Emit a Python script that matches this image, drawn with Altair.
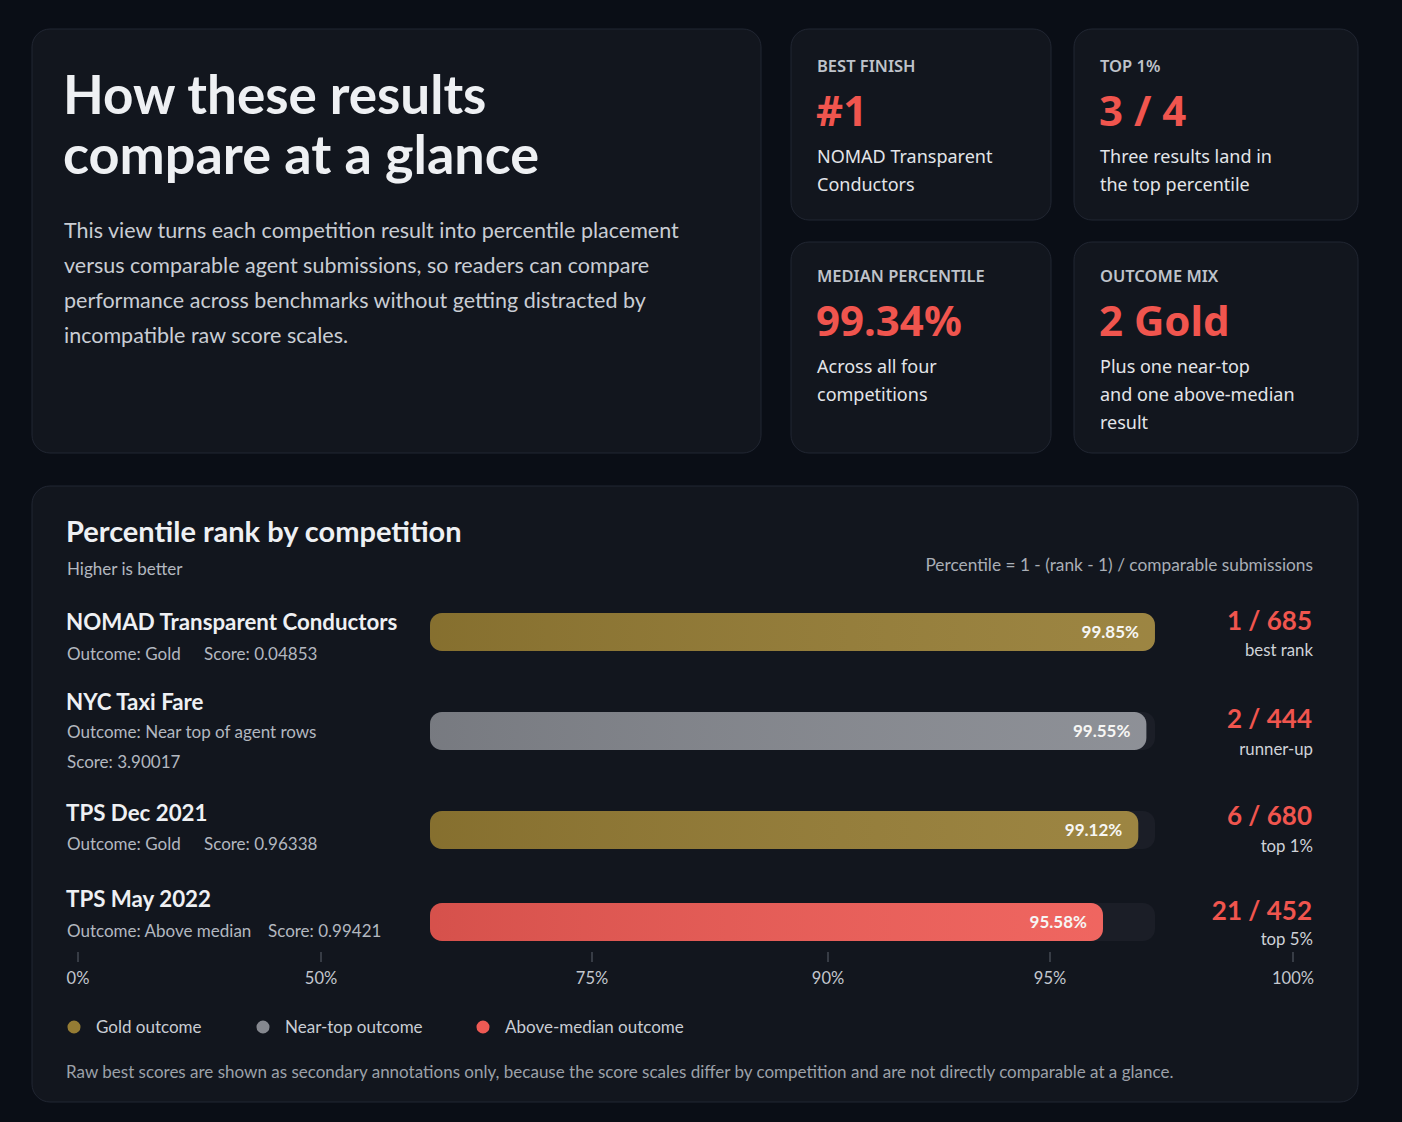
import statistics
import altair as alt
import pandas as pd

# ---------------- data ----------------
competitions = ["NOMAD Transparent Conductors", "NYC Taxi Fare", "TPS Dec 2021", "TPS May 2022"]
outcomes = ["Gold", "Near top of agent rows", "Gold", "Above median"]
outcome_class = ["Gold", "Near-top", "Gold", "Above-median"]
scores = ["0.04853", "3.90017", "0.96338", "0.99421"]
percentiles = [99.85, 99.55, 99.12, 95.58]
ranks = [1, 2, 6, 21]
submissions = [685, 444, 680, 452]
rank_notes = ["best rank", "runner-up", "top 1%", "top 5%"]
axis_ticks = [0, 50, 75, 90, 95, 100]
legend_classes = ["Gold", "Near-top", "Above-median"]
legend_labels = ["Gold outcome", "Near-top outcome", "Above-median outcome"]
class_colors = ["#957c34", "#85888f", "#ee5a54"]

df = pd.DataFrame({
    "competition": competitions, "outcome": outcomes, "cls": outcome_class,
    "score": scores, "pct": percentiles, "rank": ranks, "subs": submissions,
    "note": rank_notes,
})
ticks_df = pd.DataFrame({"tick": axis_ticks})
legend_df = pd.DataFrame({"cls": legend_classes, "label": legend_labels})

# KPI values derived from the data
best_i = ranks.index(min(ranks))
best_value = f"#{ranks[best_i]}"
top1_value = f"{sum(p >= 99 for p in percentiles)} / {len(percentiles)}"
median_value = f"{statistics.median(percentiles) + 1e-9:.2f}%"
gold_value = f"{outcome_class.count('Gold')} Gold"

# ---------------- style ----------------
BG = "#0a0e16"
CARD = "#12161e"
CARD_STROKE = "#212632"
TRACK = "#1b1e27"
RED = "#f0554e"
WHITE = "#eef0f3"
BODY = "#c9cdd4"
MUTED = "#b3b8c0"
FONT = "Lato"
CARD_FONT = "Noto Sans"

dummy = alt.Data(values=[{"a": 1}])
color_scale = alt.Scale(domain=legend_classes, range=class_colors)
bar_scale = alt.Scale(type="sqrt", domain=[0, 25], range=[1166.7, 1015.2], nice=False, zero=False)
tick_scale = alt.Scale(domain=axis_ticks, range=[78, 321, 592, 828, 1050, 1293], nice=False, zero=False)


def card(x0, y0, x1, y1, r=18):
    return alt.Chart(dummy).mark_rect(
        fill=CARD, stroke=CARD_STROKE, strokeWidth=1, cornerRadius=r
    ).encode(x=alt.value(x0), x2=alt.value(x1), y=alt.value(y0), y2=alt.value(y1))


def T(text, x, y, size, color, weight="normal", font=FONT, align="left"):
    return alt.Chart(dummy).mark_text(
        text=text, font=font, fontSize=size, fontWeight=weight, color=color,
        align=align, baseline="middle"
    ).encode(x=alt.value(x), y=alt.value(y))


layers = []

# cards
layers += [
    card(32, 29, 761, 453),
    card(791, 29, 1051, 220),
    card(1074, 29, 1358, 220),
    card(791, 242, 1051, 453),
    card(1074, 242, 1358, 453),
    card(32, 486, 1358, 1102),
]

# intro card
layers += [
    T("How these results", 63, 98, 53, WHITE, "bold"),
    T("compare at a glance", 63, 158, 54, WHITE, "bold"),
]
para = [
    "This view turns each competition result into percentile placement",
    "versus comparable agent submissions, so readers can compare",
    "performance across benchmarks without getting distracted by",
    "incompatible raw score scales.",
]
for i, line in enumerate(para):
    layers.append(T(line, 64, 232 + 35 * i, 21.5, BODY))

# KPI cards
kpis = [
    (817, 67, "BEST FINISH", best_value, ["NOMAD Transparent", "Conductors"]),
    (1100, 67, "TOP 1%", top1_value, ["Three results land in", "the top percentile"]),
    (817, 277, "MEDIAN PERCENTILE", median_value, ["Across all four", "competitions"]),
    (1100, 277, "OUTCOME MIX", gold_value, ["Plus one near-top", "and one above-median", "result"]),
]
for x, y, label, value, lines in kpis:
    layers.append(T(label, x, y, 16.5, "#bfc3ca", 600, CARD_FONT))
    layers.append(T(value, x - 1, y + 46, 42, RED, "bold", CARD_FONT))
    for j, line in enumerate(lines):
        layers.append(T(line, x, y + 91 + 28 * j, 18, "#e3e5e9", "normal", CARD_FONT))

# chart panel header
layers += [
    T("Percentile rank by competition", 66, 533, 29, WHITE, "bold"),
    T("Higher is better", 67, 570, 17, MUTED),
    T("Percentile = 1 - (rank - 1) / comparable submissions", 1313, 566, 17.3, "#a9aeb6", align="right"),
]

# rows
row_y = [632, 731, 830, 922]
title_y = [623, 703, 814, 900]
outcome_y = [655, 733, 845, 932]
score_pos = [(204, 655), (67, 763), (204, 845), (268, 932)]
rank_y = [622, 720, 817, 912]
note_y = [651, 750, 847, 940]
HALF = 19

for i, name in enumerate(competitions):
    yc = row_y[i]
    base = alt.Chart(df).transform_filter(alt.datum.competition == name).transform_calculate(
        short="100 - datum.pct",
        label="format(datum.pct, '.2f') + '%'",
        outcome_txt="'Outcome: ' + datum.outcome",
        score_txt="'Score: ' + datum.score",
        rank_txt="datum.rank + ' / ' + datum.subs",
    )
    # track
    layers.append(alt.Chart(dummy).mark_rect(fill=TRACK, cornerRadius=12).encode(
        x=alt.value(430), x2=alt.value(1155), y=alt.value(yc - HALF), y2=alt.value(yc + HALF)))
    # bar
    layers.append(base.mark_rect(cornerRadius=12).encode(
        x=alt.X("short:Q", scale=bar_scale, axis=None),
        x2=alt.value(430),
        y=alt.value(yc - HALF), y2=alt.value(yc + HALF),
        color=alt.Color("cls:N", scale=color_scale, legend=None),
    ))
    # gradient sheen on the bar
    layers.append(base.mark_rect(
        cornerRadius=12,
        fill=alt.Gradient(
            gradient="linear", x1=0, x2=1, y1=0, y2=0,
            stops=[alt.GradientStop(color="rgba(0,0,0,0.10)", offset=0),
                   alt.GradientStop(color="rgba(255,255,255,0.07)", offset=1)],
        ),
    ).encode(
        x=alt.X("short:Q", scale=bar_scale, axis=None),
        x2=alt.value(430),
        y=alt.value(yc - HALF), y2=alt.value(yc + HALF),
    ))
    # value label inside bar
    layers.append(base.mark_text(
        align="right", baseline="middle", dx=-16, font=FONT, fontSize=17,
        fontWeight="bold", color="#f6f6f4",
    ).encode(x=alt.X("short:Q", scale=bar_scale, axis=None), y=alt.value(yc + 1), text="label:N"))
    # left texts
    layers.append(base.mark_text(align="left", baseline="middle", font=FONT, fontSize=22.3,
                                 fontWeight="bold", color=WHITE).encode(
        x=alt.value(66), y=alt.value(title_y[i]), text="competition:N"))
    layers.append(base.mark_text(align="left", baseline="middle", font=FONT, fontSize=17,
                                 color=MUTED).encode(
        x=alt.value(67), y=alt.value(outcome_y[i]), text="outcome_txt:N"))
    sx, sy = score_pos[i]
    layers.append(base.mark_text(align="left", baseline="middle", font=FONT, fontSize=17,
                                 color=MUTED).encode(
        x=alt.value(sx), y=alt.value(sy), text="score_txt:N"))
    # right texts
    layers.append(base.mark_text(align="right", baseline="middle", font=FONT, fontSize=26,
                                 fontWeight="bold", color=RED).encode(
        x=alt.value(1312), y=alt.value(rank_y[i]), text="rank_txt:N"))
    layers.append(base.mark_text(align="right", baseline="middle", font=FONT, fontSize=16.8,
                                 color="#cfd2d8").encode(
        x=alt.value(1313), y=alt.value(note_y[i]), text="note:N"))

# axis ticks and labels
tick_base = alt.Chart(ticks_df).transform_calculate(lab="datum.tick + '%'")
layers.append(tick_base.mark_rule(color="#5d626c", strokeWidth=1).encode(
    x=alt.X("tick:Q", scale=tick_scale, axis=None), y=alt.value(952), y2=alt.value(962)))
layers.append(tick_base.mark_text(align="center", baseline="middle", font=FONT, fontSize=16.5,
                                  color="#c3c7ce").encode(
    x=alt.X("tick:Q", scale=tick_scale, axis=None), y=alt.value(979), text="lab:N"))

# legend
legend_x = [74, 263, 483]
for i, cls in enumerate(legend_classes):
    lb = alt.Chart(legend_df).transform_filter(alt.datum.cls == cls)
    layers.append(lb.mark_circle(size=170, opacity=1).encode(
        x=alt.value(legend_x[i]), y=alt.value(1027),
        color=alt.Color("cls:N", scale=color_scale, legend=None)))
    layers.append(lb.mark_text(align="left", baseline="middle", font=FONT, fontSize=17,
                               color="#c9cdd4").encode(
        x=alt.value(legend_x[i] + 22), y=alt.value(1028), text="label:N"))

layers.append(T("Raw best scores are shown as secondary annotations only, because the score scales differ "
                "by competition and are not directly comparable at a glance.", 66, 1073, 17, "#9ca1a9"))

chart = alt.layer(*layers).resolve_scale(x="independent").properties(
    width=1402, height=1122, background=BG, padding=0,
    autosize=alt.AutoSizeParams(type="none"),
).configure_view(stroke=None)

chart.save("out.html", embed_options={"renderer": "svg", "actions": False})
